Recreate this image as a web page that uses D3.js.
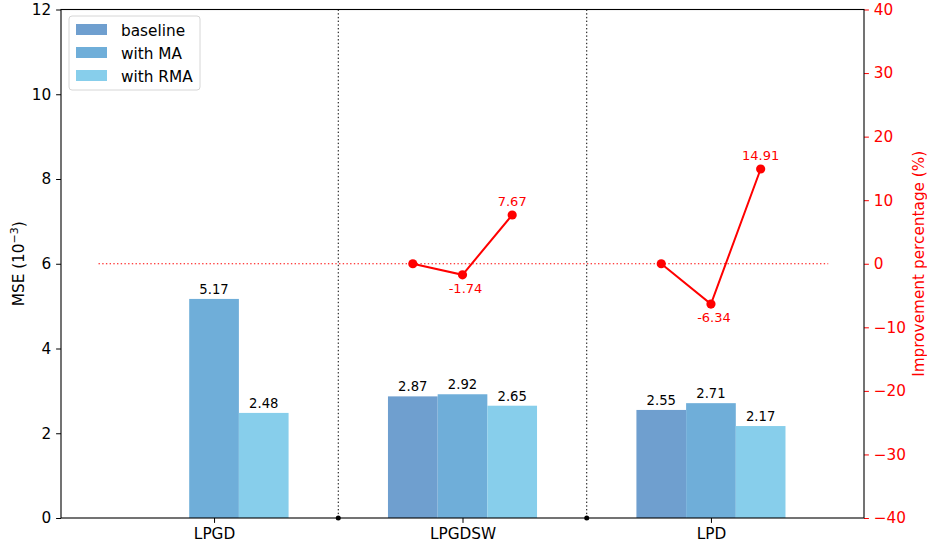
<!DOCTYPE html>
<html>
<head>
<meta charset="utf-8">
<script src="https://cdn.jsdelivr.net/npm/d3@7"></script>
<style>
  body { margin: 0; background: #fff; }
  svg { display: block; font-family: "DejaVu Sans", sans-serif; }
</style>
</head>
<body>
<svg id="chart" width="927" height="550"></svg>
<script>
// Datasets on the x axis
const categories = ["LPGD", "LPGDSW", "LPD"];
// Series shown as grouped bars (MSE, 10^-3); null = no bar
const seriesNames = ["baseline", "with MA", "with RMA"];
const baseline = [null, 2.87, 2.55];
const withMA = [5.17, 2.92, 2.71];
const withRMA = [2.48, 2.65, 2.17];
// Improvement percentage relative to baseline, per category (null = not shown)
const improvement = [
  null,
  [0, -1.74, 7.67],
  [0, -6.34, 14.91]
];
const leftTicks = [0, 2, 4, 6, 8, 10, 12];
const rightTicks = [-40, -30, -20, -10, 0, 10, 20, 30, 40];

const colors = ["#6f9fcf", "#6faed9", "#87ceeb"];
const red = "#ff0000";
const FS = 15.3;

const svg = d3.select("#chart");
const margin = { left: 61, right: 63, top: 9.5, bottom: 32 };
const W = 927, H = 550;
const x0 = margin.left, x1 = W - margin.right;
const y0 = H - margin.bottom, y1 = margin.top;

// Category positions on a continuous index axis
const x = d3.scaleLinear().domain([-0.616, 2.616]).range([x0, x1]);
const barW = 0.2;
const offsets = [-barW, 0, barW];
const y = d3.scaleLinear().domain([0, 12]).range([y0, y1]);
const yR = d3.scaleLinear().domain([-40, 40]).range([y0, y1]);

const series = [baseline, withMA, withRMA];

// Bars
series.forEach((vals, si) => {
  const data = vals.map((v, i) => ({ v, i })).filter(d => d.v !== null);
  svg.append("g").selectAll("rect")
    .data(data)
    .join("rect")
    .attr("x", d => x(d.i + offsets[si] - barW / 2))
    .attr("width", d => x(d.i + offsets[si] + barW / 2) - x(d.i + offsets[si] - barW / 2))
    .attr("y", d => y(d.v))
    .attr("height", d => y(0) - y(d.v))
    .attr("fill", colors[si]);
  svg.append("g").selectAll("text")
    .data(data)
    .join("text")
    .attr("x", d => x(d.i + offsets[si]))
    .attr("y", d => y(d.v) - 5)
    .attr("text-anchor", "middle")
    .attr("font-size", 13.2)
    .attr("fill", "#000")
    .text(d => d.v.toFixed(2));
});

// Vertical separators between categories
[0.5, 1.5].forEach(p => {
  svg.append("line")
    .attr("x1", x(p)).attr("x2", x(p))
    .attr("y1", y1).attr("y2", y0)
    .attr("stroke", "#000").attr("stroke-width", 1)
    .attr("stroke-dasharray", "1.4,2.3");
  svg.append("circle")
    .attr("cx", x(p)).attr("cy", y0).attr("r", 2.5).attr("fill", "#000");
});

// Zero reference line for the improvement axis
svg.append("line")
  .attr("x1", x(-0.465)).attr("x2", x(2.472))
  .attr("y1", yR(0)).attr("y2", yR(0))
  .attr("stroke", red).attr("stroke-width", 1)
  .attr("stroke-dasharray", "1.4,2.3");

// Improvement lines with markers and labels
improvement.forEach((vals, ci) => {
  if (!vals) return;
  const pts = vals.map((v, k) => ({ v, px: x(ci + offsets[k]), py: yR(v), k }));
  svg.append("path")
    .attr("d", d3.line().x(d => d.px).y(d => d.py)(pts))
    .attr("fill", "none").attr("stroke", red).attr("stroke-width", 2);
  svg.append("g").selectAll("circle").data(pts).join("circle")
    .attr("cx", d => d.px).attr("cy", d => d.py).attr("r", 4.6).attr("fill", red);
  svg.append("g").selectAll("text").data(pts.filter(d => d.k > 0)).join("text")
    .attr("x", d => d.px + (d.v < 0 ? 3 : 0))
    .attr("y", d => d.v >= 0 ? d.py - 9 : d.py + 18)
    .attr("text-anchor", "middle")
    .attr("font-size", 13)
    .attr("fill", red)
    .text(d => d.v.toFixed(2));
});

// Axes
const fmtMinus = d => String(d).replace("-", "\u2212");
const gL = svg.append("g").attr("transform", `translate(${x0},0)`)
  .call(d3.axisLeft(y).tickValues(leftTicks).tickSize(4.9).tickPadding(4.9));
const gR = svg.append("g").attr("transform", `translate(${x1},0)`)
  .call(d3.axisRight(yR).tickValues(rightTicks).tickSize(4.9).tickPadding(4.9).tickFormat(fmtMinus));
const gB = svg.append("g").attr("transform", `translate(0,${y0})`)
  .call(d3.axisBottom(x).tickValues([0, 1, 2]).tickSize(4.9).tickPadding(4.9)
    .tickFormat(i => categories[i]));

[gL, gR, gB].forEach(g => {
  g.selectAll("text").attr("font-size", FS).attr("font-family", "DejaVu Sans");
  g.select(".domain").remove();
});
gL.selectAll("line").attr("stroke", "#000");
gB.selectAll("line").attr("stroke", "#000");
gL.selectAll("text").attr("fill", "#000");
gB.selectAll("text").attr("fill", "#000");
gR.selectAll("line").attr("stroke", red);
gR.selectAll("text").attr("fill", red);

// Spines
svg.append("rect")
  .attr("x", x0).attr("y", y1).attr("width", x1 - x0).attr("height", y0 - y1)
  .attr("fill", "none").attr("stroke", "#000").attr("stroke-width", 1.1);

// Axis titles
svg.append("text")
  .attr("transform", `translate(24,${(y0 + y1) / 2}) rotate(-90)`)
  .attr("text-anchor", "middle").attr("font-size", FS).attr("fill", "#000")
  .html('MSE (10<tspan dy="-6" font-size="11">\u22123</tspan><tspan dy="6">)</tspan>');
svg.append("text")
  .attr("transform", `translate(924,${(y0 + y1) / 2}) rotate(-90)`)
  .attr("text-anchor", "middle").attr("font-size", FS).attr("fill", red)
  .text("Improvement percentage (%)");

// Legend
const lg = svg.append("g").attr("transform", "translate(69,16)");
lg.append("rect").attr("width", 131).attr("height", 74).attr("rx", 3)
  .attr("fill", "#fff").attr("fill-opacity", 0.8)
  .attr("stroke", "#d6d6d6").attr("stroke-width", 1);
seriesNames.forEach((n, i) => {
  lg.append("rect").attr("x", 7).attr("y", 8 + i * 23).attr("width", 31).attr("height", 11)
    .attr("fill", colors[i]);
  lg.append("text").attr("x", 52).attr("y", 19.5 + i * 23)
    .attr("font-size", FS).attr("fill", "#000").text(n);
});
</script>
</body>
</html>
